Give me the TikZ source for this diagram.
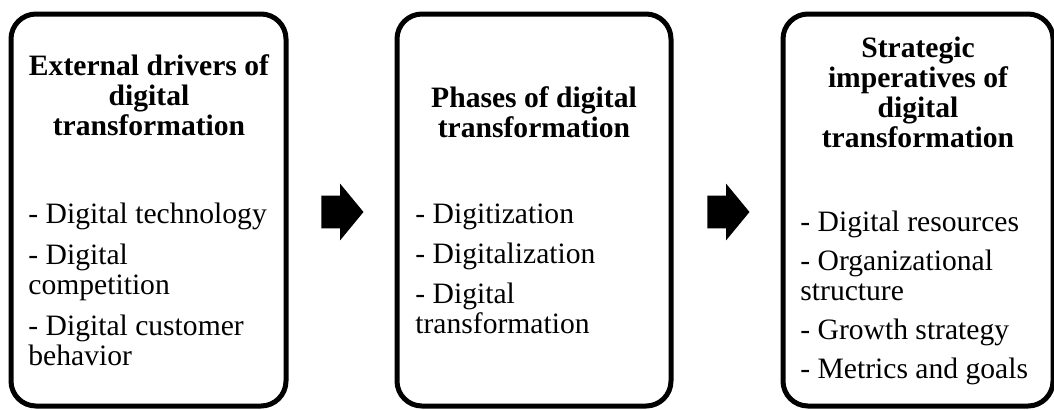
\documentclass[tikz,border=0pt]{standalone}
\usepackage{fontspec}
\setmainfont{Liberation Serif}
\usetikzlibrary{shapes.arrows, positioning}

\tikzset{
    panel/.style={draw, line width=2.5pt, rounded corners=12.5pt, minimum height=196pt},
    headtext/.style={align=center, inner sep=0pt, font=\fontsize{14.8}{15}\selectfont\bfseries},
    itemtext/.style={align=left, inner sep=0pt, font=\fontsize{14.8}{15}\selectfont},
    blockarrow/.style={single arrow, fill=black, inner sep=0pt, text height=8pt, text depth=8pt,
        minimum height=21pt, single arrow head extend=6pt, single arrow tip angle=101}
}

\begin{document}
\begin{tikzpicture}[x=0.5pt, y=-0.5pt]
        \useasboundingbox (0,0) rectangle (1054,409);

        % 三个圆角框
        \node[panel, minimum width=137.5pt] (drivers) at (148.5,210) {};
        \node[panel, minimum width=137pt] (phases) at (534,210) {};
        \node[panel, minimum width=135pt] (imper) at (918,210) {};

        % 标题(base = 最后一行的基线)
        \node[headtext, anchor=base] (driversHead) at (149,135) {External drivers of\\digital\\transformation};
        \node[headtext, anchor=base] (phasesHead) at (534,137) {Phases of digital\\transformation};
        \node[headtext, anchor=base] (imperHead) at (918,147) {Strategic\\imperatives of\\digital\\transformation};

        % 条目
        \node[itemtext, anchor=base west] (driversList) at (28,365)
            {- Digital technology\\[5.5pt]- Digital\\competition\\[5.5pt]- Digital customer\\behavior};
        \node[itemtext, anchor=base west] (phasesList) at (415,333)
            {- Digitization\\[5pt]- Digitalization\\[5pt]- Digital\\transformation};
        \node[itemtext, anchor=base west] (imperList) at (800,378)
            {- Digital resources\\[4.5pt]- Organizational\\structure\\[4.5pt]- Growth strategy\\[4.5pt]- Metrics and goals};

        % 箭头
        \node[blockarrow, anchor=tip] (arrA) at (364,212) {};
        \node[blockarrow, anchor=tip] (arrB) at (750,212) {};
\end{tikzpicture}
\end{document}
